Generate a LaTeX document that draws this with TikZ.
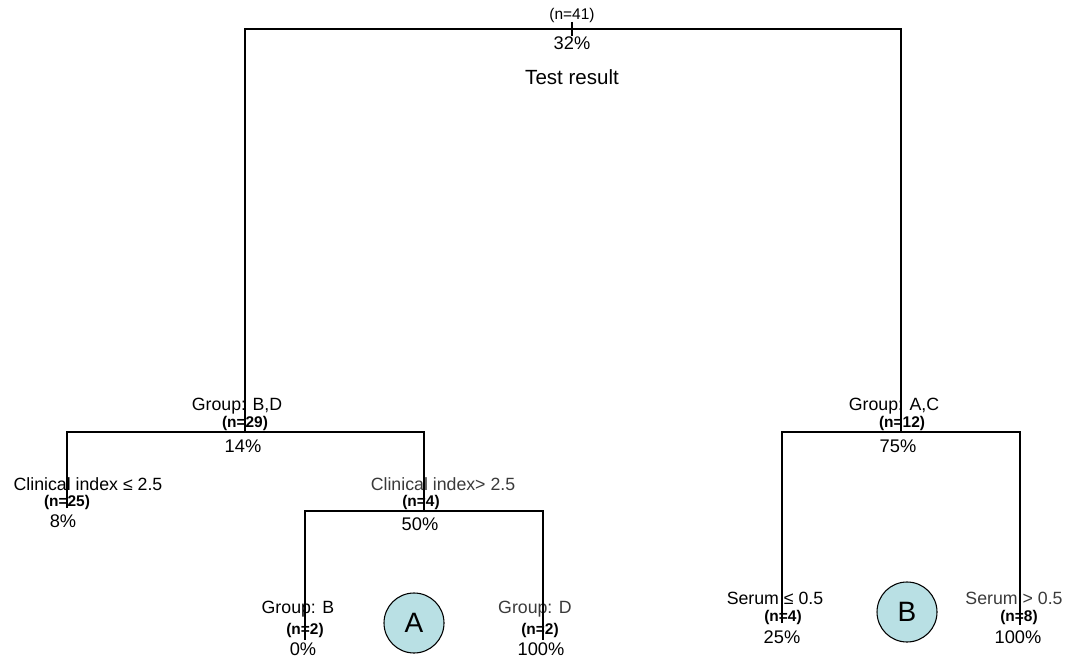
\documentclass[tikz,border=0pt]{standalone}
\usepackage{fontspec}
\setmainfont{Liberation Sans}
\definecolor{Leafcol}{RGB}{185,224,228}
\definecolor{Softcol}{HTML}{3A3A3A}
\usetikzlibrary{positioning}
\tikzset{
    split/.style={line width=1.4pt, black},
    splitlabel/.style={font=\fontsize{13.3}{15}\selectfont, inner sep=0pt},
    countlabel/.style={font=\fontsize{11.6}{13}\selectfont\bfseries, inner sep=0pt},
    ratelabel/.style={font=\fontsize{13.7}{15}\selectfont, inner sep=0pt},
    tag/.style={circle, draw, thick, fill=Leafcol, minimum size=45pt, inner sep=0pt, font=\fontsize{21}{24}\selectfont}
}

\begin{document}
\begin{tikzpicture}[x=0.75pt, y=-0.75pt]
    \useasboundingbox (0,0) rectangle (1073,659);

    % Root
    \node[countlabel, font=\fontsize{11.6}{13}\selectfont] (n41) at (572,16) {(n=41)};
    \node[ratelabel] (p32) at (572,43) {32\%};
    \node[splitlabel, font=\fontsize{15.4}{17}\selectfont] (title) at (572,77) {Test result};

    % Left branch: Group B,D
    \node[splitlabel] (grpbd) at (237,406) {Group: B,D};
    \node[countlabel] (n29) at (245,423) {(n=29)};
    \node[ratelabel] (p14) at (243,446) {14\%};

    \node[splitlabel] (cilo) at (88,484) {Clinical index ≤ 2.5};
    \node[countlabel] (n25) at (67,502) {(n=25)};
    \node[ratelabel] (p8) at (63,521) {8\%};

    \node[splitlabel, Softcol] (cihi) at (443,484) {Clinical index> 2.5};
    \node[countlabel] (n4a) at (421,502) {(n=4)};
    \node[ratelabel] (p50) at (420,524) {50\%};

    \node[splitlabel] (grpb) at (298,609) {Group: B};
    \node[countlabel] (n2a) at (305,630) {(n=2)};
    \node[ratelabel] (p0) at (303,649) {0\%};

    \node[splitlabel, Softcol] (grpd) at (535,609) {Group: D};
    \node[countlabel] (n2b) at (540,630) {(n=2)};
    \node[ratelabel] (p100a) at (541,649) {100\%};

    \node[tag] (tagA) at (414,623) {A};

    % Right branch: Group A,C
    \node[splitlabel] (grpac) at (894,406) {Group: A,C};
    \node[countlabel] (n12) at (902,423) {(n=12)};
    \node[ratelabel] (p75) at (898,446) {75\%};

    \node[splitlabel] (selo) at (775,598) {Serum ≤ 0.5};
    \node[countlabel] (n4b) at (783,617) {(n=4)};
    \node[ratelabel] (p25) at (782,637) {25\%};

    \node[splitlabel, Softcol] (sehi) at (1014,598) {Serum > 0.5};
    \node[countlabel] (n8) at (1019,617) {(n=8)};
    \node[ratelabel] (p100b) at (1018,637) {100\%};

    \node[tag] (tagB) at (907,612) {B};

    % Split points
    \coordinate (root) at (572,29);
    \coordinate (bd) at (245,432);
    \coordinate (ac) at (901,432);
    \coordinate (clo) at (67,508);
    \coordinate (chi) at (424,511);
    \coordinate (gb) at (305,640);
    \coordinate (gd) at (543,640);
    \coordinate (slo) at (782,623);
    \coordinate (shi) at (1020,625);

    % Tree
    \draw[split] (bd) |- (root) -| (ac);
    \draw[split] (root) ++(0,-7) -- ++(0,14);
    \draw[split] (clo) |- (bd) -| (chi);
    \draw[split] (gb) |- (chi) -| (gd);
    \draw[split] (slo) |- (ac) -| (shi);
\end{tikzpicture}
\end{document}
